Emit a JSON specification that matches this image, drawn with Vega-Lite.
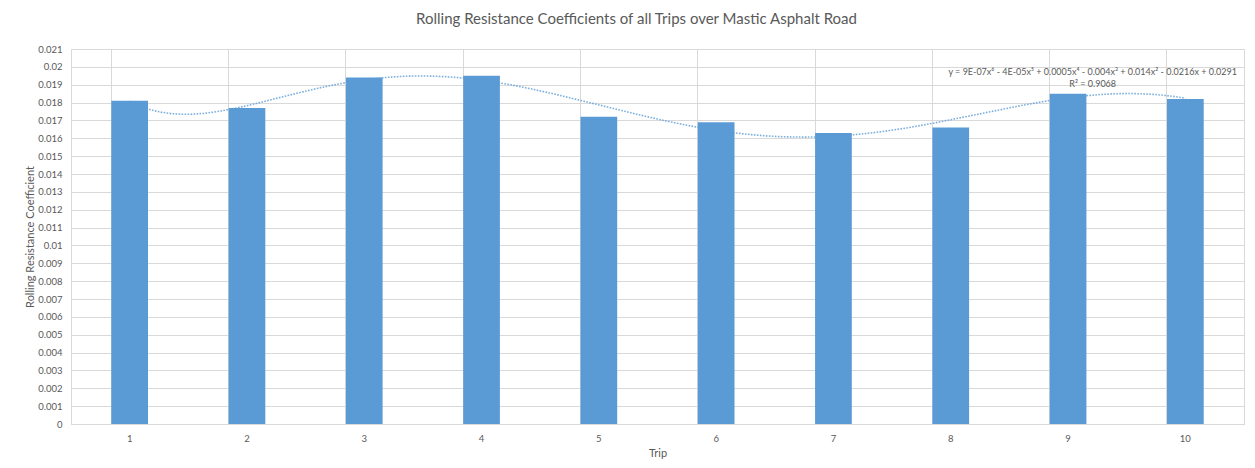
{
  "$schema": "https://vega.github.io/schema/vega-lite/v6.json",
  "width": 1173,
  "height": 375,
  "autosize": {"type": "none"},
  "padding": {"left": 71, "top": 49, "right": 11, "bottom": 44},
  "background": "#ffffff",
  "title": {
    "text": "Rolling Resistance Coefficients of all Trips over Mastic Asphalt Road",
    "font": "Lato",
    "fontSize": 15,
    "fontWeight": "normal",
    "color": "#595959",
    "anchor": "middle",
    "dx": -21,
    "offset": 17
  },
  "config": {
    "view": {"stroke": "#D9D9D9", "strokeWidth": 1},
    "axis": {
      "labelFont": "Lato",
      "labelFontSize": 9.5,
      "labelColor": "#595959",
      "titleFont": "Lato",
      "titleFontSize": 11,
      "titleFontWeight": "normal",
      "titleColor": "#595959",
      "gridColor": "#D9D9D9",
      "gridWidth": 1,
      "ticks": false,
      "domainColor": "#D9D9D9",
      "labelOverlap": false
    }
  },
  "data": {
    "values": [
      {"trip": 1, "coefficient": 0.0181},
      {"trip": 2, "coefficient": 0.0177},
      {"trip": 3, "coefficient": 0.0194},
      {"trip": 4, "coefficient": 0.0195},
      {"trip": 5, "coefficient": 0.0172},
      {"trip": 6, "coefficient": 0.0169},
      {"trip": 7, "coefficient": 0.0163},
      {"trip": 8, "coefficient": 0.0166},
      {"trip": 9, "coefficient": 0.0185},
      {"trip": 10, "coefficient": 0.0182}
    ]
  },
  "layer": [
    {
      "mark": {"type": "bar", "color": "#5B9BD5"},
      "encoding": {
        "x": {
          "field": "trip",
          "type": "ordinal",
          "title": "Trip",
          "scale": {"paddingInner": 0.687, "paddingOuter": 0.3435},
          "axis": {
            "labelAngle": 0,
            "grid": true,
            "bandPosition": 0,
            "labelPadding": 9,
            "titlePadding": 5,
            "domain": true
          }
        },
        "y": {
          "field": "coefficient",
          "type": "quantitative",
          "title": "Rolling Resistance Coefficient",
          "scale": {"domain": [0, 0.021], "nice": false},
          "axis": {
            "values": [0, 0.001, 0.002, 0.003, 0.004, 0.005, 0.006, 0.007, 0.008, 0.009, 0.01, 0.011, 0.012, 0.013, 0.014, 0.015, 0.016, 0.017, 0.018, 0.019, 0.02, 0.021],
            "format": "~g",
            "labelPadding": 9,
            "titlePadding": 2,
            "domain": false
          }
        }
      }
    },
    {
      "transform": [
        {"regression": "coefficient", "on": "trip", "method": "poly", "order": 6, "extent": [1, 10]}
      ],
      "mark": {"type": "line", "color": "#5B9BD5", "strokeWidth": 1.6, "strokeDash": [1.6, 1.4], "opacity": 0.8},
      "encoding": {
        "x": {"field": "trip", "type": "quantitative", "scale": {"domain": [0.5, 10.5], "nice": false, "zero": false}, "axis": null},
        "y": {
          "field": "coefficient",
          "type": "quantitative",
          "title": "Rolling Resistance Coefficient",
          "scale": {"domain": [0, 0.021], "nice": false},
          "axis": {
            "values": [0, 0.001, 0.002, 0.003, 0.004, 0.005, 0.006, 0.007, 0.008, 0.009, 0.01, 0.011, 0.012, 0.013, 0.014, 0.015, 0.016, 0.017, 0.018, 0.019, 0.02, 0.021],
            "format": "~g",
            "labelPadding": 9,
            "titlePadding": 2,
            "domain": false
          }
        }
      }
    },
    {
      "data": {"values": [{"label": "trendline"}]},
      "mark": {
        "type": "text",
        "text": ["y = 9E-07x⁶ - 4E-05x⁵ + 0.0005x⁴ - 0.004x³ + 0.014x² - 0.0216x + 0.0291", "R² = 0.9068"],
        "font": "Lato",
        "fontSize": 9,
        "color": "#595959",
        "align": "center",
        "baseline": "middle",
        "lineHeight": 12
      },
      "encoding": {
        "x": {"datum": 9.21, "type": "quantitative", "scale": {"domain": [0.5, 10.5], "nice": false, "zero": false}, "axis": null},
        "y": {
          "datum": 0.01973,
          "type": "quantitative",
          "title": "Rolling Resistance Coefficient",
          "scale": {"domain": [0, 0.021], "nice": false},
          "axis": {
            "values": [0, 0.001, 0.002, 0.003, 0.004, 0.005, 0.006, 0.007, 0.008, 0.009, 0.01, 0.011, 0.012, 0.013, 0.014, 0.015, 0.016, 0.017, 0.018, 0.019, 0.02, 0.021],
            "format": "~g",
            "labelPadding": 9,
            "titlePadding": 2,
            "domain": false
          }
        }
      }
    }
  ],
  "resolve": {"scale": {"x": "independent"}}
}
